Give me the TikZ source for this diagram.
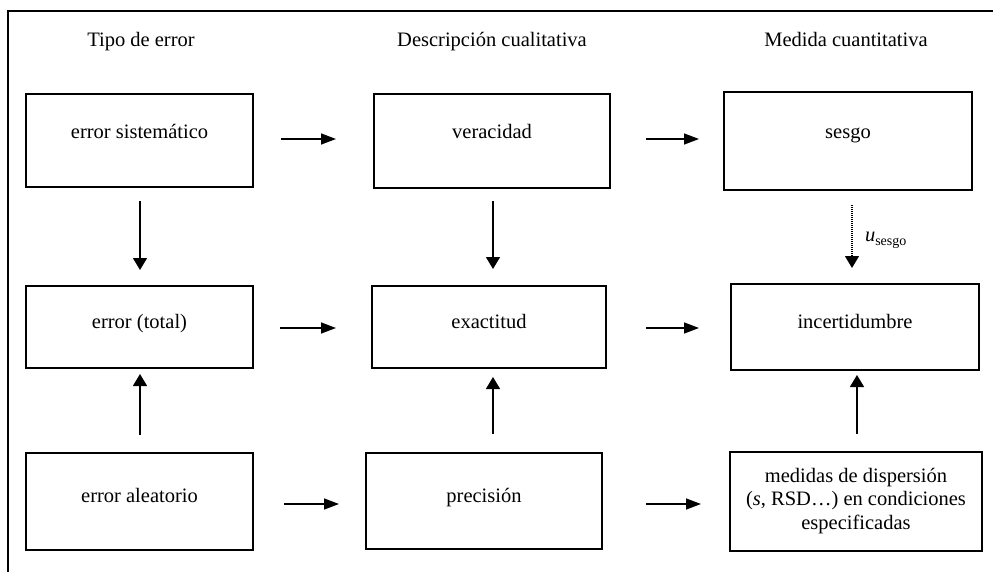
\documentclass[tikz,border=0pt]{standalone}
\usepackage{fontspec}
\setmainfont{Liberation Serif}
\usetikzlibrary{arrows.meta,calc}
\newcommand\diagfont{\fontsize{20.5}{23.5}\selectfont}
\begin{document}
\begin{tikzpicture}[x=1pt,y=-1pt,
  box/.style={draw, line width=2pt, inner sep=0pt, align=center, font=\diagfont},
  toprow/.style={text height=14pt, text depth=18pt},
  lowrow/.style={text height=14pt, text depth=12pt},
  head/.style={anchor=base, font=\diagfont},
  harr/.style={line width=1.4pt, -{Triangle[length=15pt,width=11pt]}},
  varr/.style={line width=1.4pt, -{Triangle[length=12pt,width=14pt]}},
  dotarr/.style={varr, dash pattern=on 1pt off 1pt}
]
\useasboundingbox (0,0) rectangle (993,572);

% outer frame
\draw[line width=1.5pt] (8,575) -- (8,11) -- (996,11);

% column headings
\node[head] (h1) at (141,47) {Tipo de error};
\node[head] (h2) at (492,47) {Descripción cualitativa};
\node[head] (h3) at (846,47) {Medida cuantitativa};

% first row
\node[box, toprow, minimum width=227pt, minimum height=93pt] (sis) at (139.5,141) {error sistemático};
\node[box, toprow, minimum width=236pt, minimum height=94pt] (ver) at (492,141) {veracidad};
\node[box, toprow, minimum width=248pt, minimum height=98pt] (ses) at (848,141) {sesgo};

% second row
\node[box, lowrow, minimum width=227pt, minimum height=82pt] (tot) at (139.5,327) {error (total)};
\node[box, lowrow, minimum width=234pt, minimum height=82pt] (exa) at (489,327) {exactitud};
\node[box, lowrow, minimum width=248pt, minimum height=86pt] (inc) at (855,327) {incertidumbre};

% third row
\node[box, lowrow, minimum width=227pt, minimum height=97pt] (ale) at (139.5,501) {error aleatorio};
\node[box, lowrow, minimum width=236pt, minimum height=96pt] (pre) at (484,501) {precisión};
\node[box, minimum width=252pt, minimum height=99pt] (med) at (856,501)
  {medidas de dispersión\\(\textit{s}, RSD\ldots) en condiciones\\especificadas};

% horizontal connectors
\draw[harr] ($(sis.east)+(27,-2)$) -- ($(sis.east -| ver.west)+(-37,-2)$);
\draw[harr] ($(ver.east)+(35,-2)$) -- ($(ver.east -| ses.west)+(-24,-2)$);
\draw[harr] ($(tot.east)+(26,1)$) -- ($(tot.east -| exa.west)+(-35,1)$);
\draw[harr] ($(exa.east)+(39,1)$) -- ($(exa.east -| inc.west)+(-31,1)$);
\draw[harr] ($(ale.east)+(30,3)$) -- ($(ale.east -| pre.west)+(-26,3)$);
\draw[harr] ($(pre.east)+(43,3)$) -- ($(pre.east -| med.west)+(-28,3)$);

% vertical connectors
\draw[varr] ($(sis.south)+(0.5,13)$) -- ($(sis.south |- tot.north)+(0.5,-15)$);
\draw[varr] ($(ver.south)+(1,12)$) -- ($(ver.south |- exa.north)+(1,-16)$);
\draw[dotarr] ($(ses.south)+(4,14)$) -- ($(ses.south |- inc.north)+(4,-15)$)
  node[pos=0.5, anchor=base west, xshift=9pt, yshift=-5pt, font=\diagfont] (us)
  {\textit{u}\raisebox{-4pt}{\fontsize{14}{14}\selectfont sesgo}};
\draw[varr] ($(tot.south |- ale.north)+(0.5,-17)$) -- ($(tot.south)+(0.5,5)$);
\draw[varr] ($(exa.south |- pre.north)+(4,-18)$) -- ($(exa.south)+(4,8)$);
\draw[varr] ($(inc.south |- med.north)+(2,-17)$) -- ($(inc.south)+(2,4)$);
\end{tikzpicture}
\end{document}
